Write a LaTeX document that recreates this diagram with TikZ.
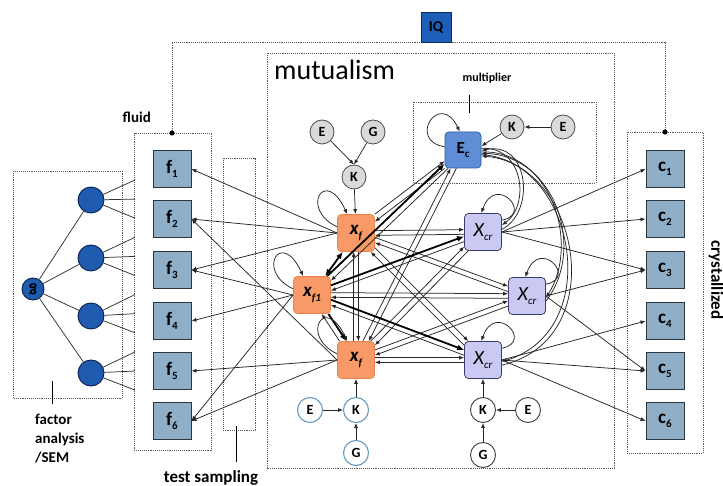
\documentclass[tikz,border=0pt]{standalone}
\usepackage{fontspec}
\setmainfont{Carlito}
\usetikzlibrary{arrows.meta,calc}
\definecolor{obsfill}{HTML}{8FAFC8}
\definecolor{obsdraw}{HTML}{2B3540}
\definecolor{orfill}{HTML}{F79A68}
\definecolor{ordraw}{HTML}{F08048}
\definecolor{lvfill}{HTML}{C9C9F3}
\definecolor{lvdraw}{HTML}{3C3C6E}
\definecolor{ecfill}{HTML}{5F8ED6}
\definecolor{ecdraw}{HTML}{2C5AA8}
\definecolor{iqfill}{HTML}{1D5FB8}
\definecolor{iqdraw}{HTML}{0B2D66}
\definecolor{facfill}{HTML}{1F5CB0}
\definecolor{facdraw}{HTML}{0A1F4F}
\definecolor{grayfill}{HTML}{DADADA}
\definecolor{blueline}{HTML}{5A95BE}
\newcommand\mysub[1]{\raisebox{-0.45ex}{\fontsize{11}{11}\selectfont #1}}
\begin{document}
\begin{tikzpicture}[x=1pt,y=-1pt,
 box/.style={draw=black!65, densely dotted, line width=0.9pt},
 obs/.style={draw=obsdraw, fill=obsfill, line width=0.9pt, minimum width=38pt, minimum height=37pt, inner sep=0pt, font=\fontsize{19}{19}\selectfont\bfseries},
 orn/.style={draw=ordraw, fill=orfill, rounded corners=4pt, line width=0.8pt, minimum size=37pt, inner sep=0pt, font=\fontsize{19}{19}\selectfont\bfseries\itshape},
 lav/.style={draw=lvdraw, fill=lvfill, rounded corners=4pt, line width=0.8pt, minimum size=37pt, inner sep=0pt, font=\fontsize{20}{20}\selectfont\itshape},
 ecn/.style={draw=ecdraw, fill=ecfill, rounded corners=4pt, line width=0.8pt, minimum size=36pt, inner sep=0pt, font=\fontsize{17}{17}\selectfont\bfseries},
 fac/.style={circle, draw=facdraw, fill=facfill, line width=0.9pt, minimum size=26pt, inner sep=0pt},
 gcirc/.style={circle, draw=black!70, fill=grayfill, line width=0.8pt, minimum size=24pt, inner sep=0pt, font=\fontsize{14}{14}\selectfont\bfseries},
 bcirc/.style={circle, draw=blueline, fill=white, line width=1pt, minimum size=25pt, inner sep=0pt, font=\fontsize{14}{14}\selectfont\bfseries},
 wcirc/.style={circle, draw=black!75, fill=white, line width=0.9pt, minimum size=25pt, inner sep=0pt, font=\fontsize{14}{14}\selectfont\bfseries},
 arr/.style={-{Latex[length=5pt,width=4pt]}, line width=0.75pt, draw=black!85},
 tarr/.style={-{Latex[length=7pt,width=6pt]}, line width=1.8pt, draw=black},
 ttarr/.style={{Latex[length=7pt,width=6pt]}-{Latex[length=7pt,width=6pt]}, line width=1.8pt, draw=black},
 ln/.style={line width=0.75pt, draw=black!80},
 lbl/.style={font=\fontsize{15}{19}\selectfont\bfseries, inner sep=0pt}
]
\useasboundingbox (0,0) rectangle (723,486);
\fill[white] (0,0) rectangle (723,486);

% dotted boxes
\draw[box] (13,171) rectangle (122,398);
\draw[box] (134,133) rectangle (211,450);
\draw[box] (223,158) rectangle (255,430);
\draw[box] (267,53) rectangle (614,468);
\draw[box] (413,102) rectangle (596,183);
\draw[box] (627,132) rectangle (703,453);

% IQ bracket
\coordinate (fdot) at (172,133);
\coordinate (cdot) at (665,132);
\coordinate (ql) at (172,42);
\coordinate (qr) at (665,42);
\draw[box] (fdot) -- (ql) -- (qr) -- (cdot);
\fill (fdot) circle[radius=2.6pt];
\fill (cdot) circle[radius=2.6pt];
\node[draw=iqdraw, fill=iqfill, line width=1pt, minimum size=30pt, inner sep=0pt, font=\fontsize{15}{15}\selectfont\bfseries] (IQ) at (436,28) {IQ};

% ticks
\coordinate (t1a) at (52,381); \coordinate (t1b) at (52,404);
\coordinate (t2a) at (236,426); \coordinate (t2b) at (236,462);
\coordinate (t3a) at (469,95); \coordinate (t3b) at (469,113);
\draw[line width=1pt] (t1a) -- (t1b);
\draw[line width=1pt] (t2a) -- (t2b);
\draw[line width=1pt] (t3a) -- (t3b);

% labels
\node[lbl, anchor=north west, align=left] (fa) at (35,414) {factor\\analysis\\/SEM};
\node[lbl, anchor=east] (fl) at (151,117) {fluid};
\node[lbl, font=\fontsize{17}{17}\selectfont\bfseries] (ts) at (211,478) {test sampling};
\node[anchor=base west, inner sep=0pt, font=\fontsize{28}{28}\selectfont] (mu) at (274,80) {mutualism};
\node[lbl, font=\fontsize{12}{12}\selectfont\bfseries] (mp) at (487,78) {multiplier};
\node[lbl, rotate=-90, font=\fontsize{17}{17}\selectfont\bfseries] (cz) at (716,280) {crystallized};

% factor analysis
\node[fac] (h1) at (91,200) {};
\node[fac] (h2) at (91,258) {};
\node[fac] (h3) at (91,316) {};
\node[fac] (h4) at (91,373) {};
\node[fac, minimum size=22pt, font=\fontsize{17}{17}\selectfont\bfseries] (g) at (33,289) {\rotatebox{180}{g}};
\foreach \h in {h1,h2,h3,h4} \draw[ln] (g) -- (\h);
\foreach \i in {0,...,11} \coordinate (L\i) at (135,{180+19.1*\i});
\foreach \h/\a/\b/\c in {h1/0/1/2, h2/3/4/5, h3/6/7/8, h4/9/10/11} {
  \draw[ln] (\h) -- (L\a);
  \draw[ln] (\h) -- (L\b);
  \draw[ln] (\h) -- (L\c);
}

% observed tests
\foreach \i/\y in {1/169,2/219,3/270,4/321,5/371,6/421} {
  \node[obs] (f\i) at (172,\y) {f\mysub{\i}};
  \node[obs] (c\i) at (665,\y) {c\mysub{\i}};
}

% central nodes
\node[orn] (A) at (356,233) {x\mysub{f}};
\node[orn] (B) at (312,295) {x\mysub{f1}};
\node[orn] (C) at (356,360) {x\mysub{f}};
\node[lav] (P) at (483,232) {X\mysub{cr}};
\node[lav] (Q) at (527,296) {X\mysub{cr}};
\node[lav] (R) at (483,360) {X\mysub{cr}};
\node[ecn] (Ec) at (463,150) {E\mysub{c}};

% small circles
\node[gcirc] (E1) at (322,132) {E};
\node[gcirc] (G1) at (373,132) {G};
\node[gcirc] (K1) at (354,177) {K};
\node[gcirc] (K2) at (512,127) {K};
\node[gcirc] (E2) at (563,127) {E};
\node[bcirc] (E3) at (310,410) {E};
\node[bcirc] (K3) at (356,410) {K};
\node[bcirc] (G3) at (356,453) {G};
\node[wcirc] (K4) at (483,410) {K};
\node[wcirc] (E4) at (528,410) {E};
\node[wcirc] (G4) at (483,455) {G};

\draw[arr] (E1) -- (K1.north);
\draw[arr] (G1) -- (K1.north);
\draw[arr] (K1) -- (A);
\draw[arr] (E2) -- (K2);
\draw[arr] (K2) -- (Ec.12);
\draw[arr] (E3) -- (K3);
\draw[arr] (G3) -- (K3);
\draw[arr] (K3) -- (C);
\draw[arr] (E4) -- (K4);
\draw[arr] (G4) -- (K4);
\draw[arr] (K4) -- (R);

% to tests
\foreach \s/\t in {A/f1,A/f2,A/f3,B/f3,B/f4,B/f6,C/f2,C/f5,C/f6}
  \draw[arr] (\s.west) -- (\t.east);
\foreach \s/\t in {P/c1,P/c2,P/c3,Q/c3,Q/c5,R/c4,R/c5,R/c6}
  \draw[arr] (\s.east) -- (\t.west);

% mutualistic pairs
\foreach \X/\Y/\a in {A/P/0, A/Q/-20, A/R/-45, B/Q/0, C/P/45, C/Q/21, C/R/0, A/C/-90, A/Ec/38, C/Ec/63} {
  \pgfmathtruncatemacro\ua{\a+7}
  \pgfmathtruncatemacro\ub{\a+173}
  \pgfmathtruncatemacro\va{\a+187}
  \pgfmathtruncatemacro\vb{\a-7}
  \draw[arr] (\X.\ua) -- (\Y.\ub);
  \draw[arr] (\Y.\va) -- (\X.\vb);
}
\draw[tarr] (B.27) -- (P.193);
\draw[arr] (P.207) -- (B.13);
\draw[tarr] (B.-14) -- (R.152);
\draw[arr] (R.166) -- (B.-28);
\draw[tarr] (B.51) -- (Ec.217);
\draw[arr] (Ec.231) -- (B.37);
\draw[ttarr] (B.55) -- (A.235);
\draw[tarr] (B.-49) -- (C.117);
\draw[arr] (C.131) -- (B.-63);

% multiplier curves
\draw[arr] (Ec.5) .. controls (524,146) and (530,205) .. (P.20);
\draw[arr] (P.8) .. controls (536,212) and (529,140) .. (Ec.-2);
\draw[arr] (Ec.-6) .. controls (552,150) and (580,245) .. (Q.-5);
\draw[arr] (Q.-15) .. controls (586,250) and (556,156) .. (Ec.-10);
\draw[arr] (Ec.-14) .. controls (575,160) and (606,330) .. (R.-5);
\draw[arr] (R.-15) .. controls (612,340) and (580,164) .. (Ec.-18);

% self loops
\foreach \N in {A,B,C}
  \draw[arr] (\N.162) .. controls +(-38,-18) and +(-22,-48) .. (\N.115);
\foreach \N in {P,Q,R}
  \draw[arr] (\N.32) .. controls +(32,-6) and +(14,-40) .. (\N.95);
\draw[arr] (Ec.170) .. controls +(-38,-6) and +(-20,-42) .. (Ec.100);
\end{tikzpicture}
\end{document}
